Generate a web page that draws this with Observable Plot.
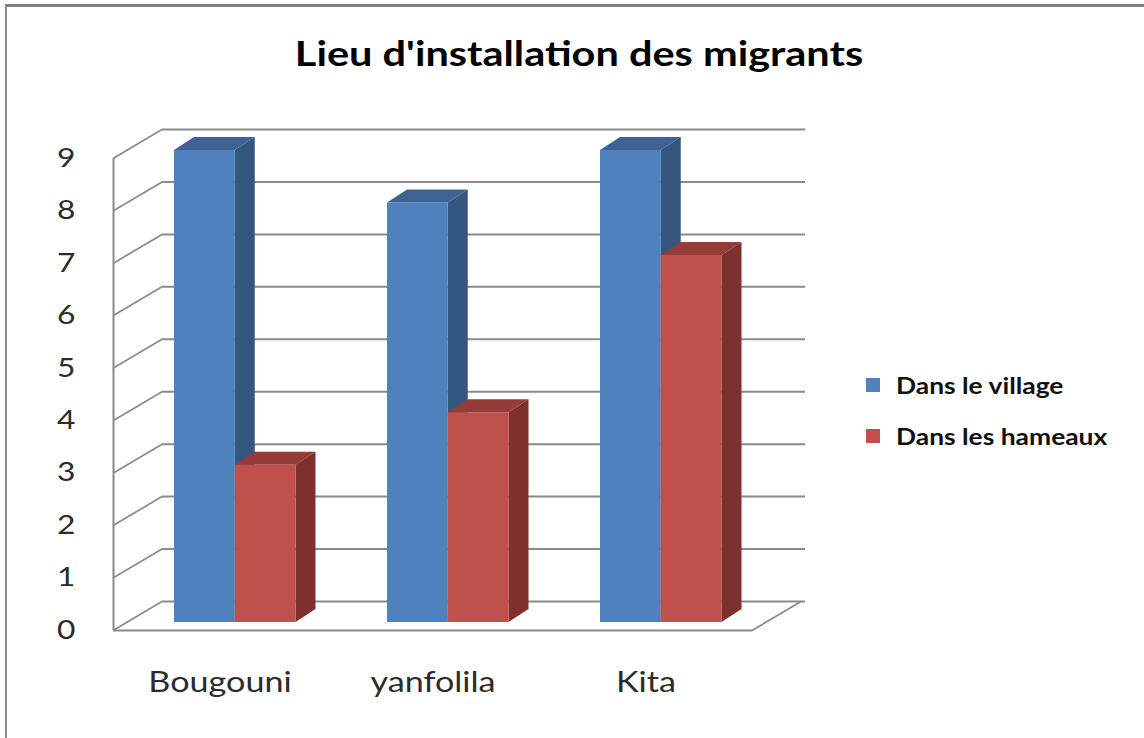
<!DOCTYPE html>
<html>
<head>
<meta charset="utf-8">
<script src="https://cdn.jsdelivr.net/npm/d3@7"></script>
<script src="https://cdn.jsdelivr.net/npm/@observablehq/plot@0.6"></script>
<style>
  html, body { margin: 0; padding: 0; background: #fff; }
  #wrap { position: relative; width: 1144px; height: 738px; overflow: hidden; background: #fff; }
  #wrap svg { position: absolute; left: 0; top: 0; }
  #border { position: absolute; left: 5px; top: 4px; width: 1300px; height: 900px;
            border-top: 3px solid #808080; border-left: 2px solid #8a8a8a; }
  #title { position: absolute; left: 0; width: 1158px; top: 33px; text-align: center;
           font: 700 34px Lato, sans-serif; line-height: 40px; color: #000;
           transform: scaleX(1.22); transform-origin: 579px 0; white-space: nowrap; }
  .leg { position: absolute; left: 866px; height: 26px; line-height: 26px; white-space: nowrap;
         font: 700 22px Lato, sans-serif; color: #111; }
  .leg .sw { position: absolute; left: 0; top: 6px; width: 14px; height: 14px; }
  .leg .tx { position: absolute; left: 30px; top: 0; transform: scaleX(1.2); transform-origin: 0 0; }
</style>
</head>
<body>
<div id="wrap">
  <div id="border"></div>
</div>
<script>
// ---- data ----
const title = "Lieu d'installation des migrants";
const categories = ["Bougouni", "yanfolila", "Kita"];
const series = ["Dans le village", "Dans les hameaux"];
const village = [9, 8, 9];
const hameaux = [3, 4, 7];
const yTicks = [0, 1, 2, 3, 4, 5, 6, 7, 8, 9];

// ---- styles ----
const frontColors = ["#4f81bd", "#c0504d"];
const sideColors = ["#34567f", "#7e302e"];
const topColors = ["#3d6293", "#953b38"];
const gridColor = "#8a8a8a";

// ---- layout ----
const W = 1144, H = 738, mL = 113, mR = 392, mT = 158, mB = 108;
const depth = {dx: 49, dy: -29};      // front plane -> back wall
const barPlane = {dx: 14, dy: -8};    // front plane -> bar front faces
const side = {w: 20, h: 13};          // bar depth projection
const band = (W - mL - mR) / categories.length;
const barW = 60.75, groupInset = 47;
const textStretch = 1.22;

const rows = categories.flatMap((c, i) => [
  {cat: c, series: series[0], value: village[i]},
  {cat: c, series: series[1], value: hameaux[i]}
]);

const barMarks = series.flatMap((sname, s) => {
  const d = rows.filter(r => r.series === sname);
  const iL = groupInset + s * barW;
  const iR = band - iL - barW;
  return [
    Plot.barY(d, {x: "cat", y1: 0, y2: "value", insetLeft: iL + barW, insetRight: iR - side.w,
      dx: barPlane.dx, dy: barPlane.dy, fill: sideColors[s], ariaDescription: "bar-side"}),
    Plot.barY(d, {x: "cat", y1: "value", y2: "value", insetLeft: iL, insetRight: iR, insetTop: -side.h, insetBottom: 0,
      dx: barPlane.dx, dy: barPlane.dy, fill: topColors[s], ariaDescription: "bar-top"}),
    Plot.barY(d, {x: "cat", y1: 0, y2: "value", insetLeft: iL, insetRight: iR,
      dx: barPlane.dx, dy: barPlane.dy, fill: frontColors[s], ariaDescription: "bar-front"})
  ];
});

const svg = Plot.plot({
  width: W, height: H,
  marginLeft: mL, marginRight: mR, marginTop: mT, marginBottom: mB,
  style: {fontFamily: "Lato, sans-serif", fontSize: "26px", color: "#2b2b2b", background: "transparent", overflow: "visible"},
  x: {type: "band", domain: categories, padding: 0, round: false, label: null},
  y: {domain: [0, d3.max(yTicks)], label: null},
  marks: [
    // back wall gridlines
    Plot.ruleY(yTicks, {y: d => d, dx: depth.dx, dy: depth.dy, insetRight: -4, stroke: gridColor, strokeWidth: 2}),
    // left wall diagonals
    Plot.tickY(yTicks, {y: d => d, insetRight: (W - mL - mR) - depth.dx, stroke: gridColor, strokeWidth: 2, ariaDescription: "left-wall"}),
    // floor front edge
    Plot.ruleY([0], {y: d => d, stroke: gridColor, strokeWidth: 2}),
    // floor right edge
    Plot.tickY([0], {y: d => d, insetLeft: (W - mL - mR) - depth.dx, dx: depth.dx, stroke: gridColor, strokeWidth: 2, ariaDescription: "floor-right"}),
    // front vertical axis line
    Plot.ruleX([0], {x: null, y1: 0, y2: d3.max(yTicks), dx: -(W - mL - mR) / 2, stroke: gridColor, strokeWidth: 2}),
    ...barMarks,
    Plot.axisY(yTicks, {tickSize: 0, tickPadding: 38, fontSize: 26, label: null, tickFormat: d => String(d)}),
    Plot.axisX({tickSize: 0, tickPadding: 42, fontSize: 28, label: null})
  ]
});

// ---- 3D projection of faces (post-render transforms) ----
const S = d3.select(svg);
S.selectAll('g[aria-description="bar-side"] rect').attr("transform", function () {
  const x = +this.getAttribute("x"), k = side.h / side.w;
  return `matrix(1,${-k},0,1,0,${k * x})`;
});
S.selectAll('g[aria-description="bar-top"] rect').attr("transform", function () {
  const yb = +this.getAttribute("y") + +this.getAttribute("height"), m = side.w / side.h;
  return `matrix(1,0,${-m},1,${m * yb},0)`;
});
function skewGroup(label, x0) {
  const k = -depth.dy / depth.dx;
  S.selectAll(`g[aria-description="${label}"]`).each(function () {
    const t = this.getAttribute("transform") || "";
    this.setAttribute("transform", `matrix(1,${-k},0,1,0,${k * x0}) ${t}`);
  });
}
skewGroup("left-wall", mL);
skewGroup("floor-right", W - mR);

// stretch tick labels horizontally (wide Calibri look)
S.selectAll('g[aria-label$="tick label"] text').each(function () {
  const t = this.getAttribute("transform");
  if (t) this.setAttribute("transform", `${t} scale(${textStretch},1)`);
  else {
    const x = +this.getAttribute("x") || 0, y = +this.getAttribute("y") || 0;
    this.setAttribute("transform", `translate(${x},${y}) scale(${textStretch},1) translate(${-x},${-y})`);
  }
});

const wrap = document.getElementById("wrap");
wrap.appendChild(svg);

const t = document.createElement("div");
t.id = "title";
t.textContent = title;
wrap.appendChild(t);

const legTops = [372, 423];
series.forEach((sname, s) => {
  const item = document.createElement("div");
  item.className = "leg";
  item.style.top = legTops[s] + "px";
  const sw = document.createElement("span");
  sw.className = "sw";
  sw.style.background = frontColors[s];
  const tx = document.createElement("span");
  tx.className = "tx";
  tx.textContent = sname;
  item.appendChild(sw);
  item.appendChild(tx);
  wrap.appendChild(item);
});
</script>
</body>
</html>
